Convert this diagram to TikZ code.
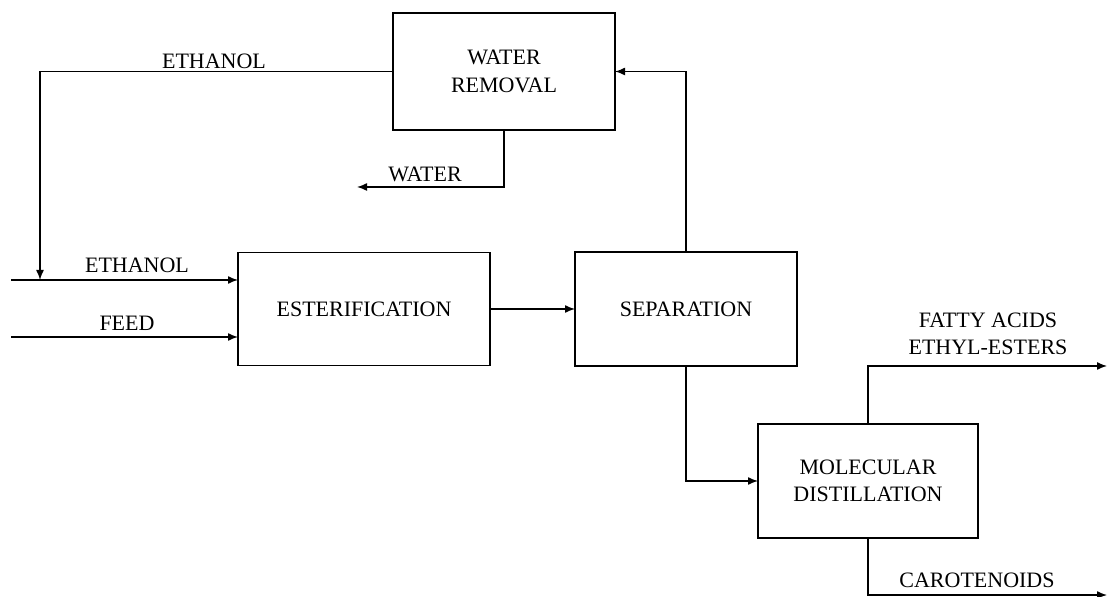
\documentclass[tikz,border=0pt]{standalone}
\usepackage{fontspec}
\setmainfont{Liberation Serif}
\usepackage{tikz}
\usetikzlibrary{arrows.meta,positioning}

\begin{document}
\begin{tikzpicture}[
  x=0.5pt,y=-0.5pt,
  unit/.style={draw,line width=0.7pt,outer sep=0pt,minimum width=111pt,minimum height=57pt,align=center,font=\fontsize{11}{13.8}\selectfont},
  lbl/.style={inner sep=0pt,align=center,font=\fontsize{11}{13.5}\selectfont},
  arrow/.style={-{Latex[length=5pt,width=4pt]},line width=0.7pt}
]
\useasboundingbox (0,0) rectangle (1112,597);
\node[unit,minimum height=58.5pt] (wr) at (504,71.5) {WATER\\REMOVAL};
\node[unit,minimum width=126pt,minimum height=56.5pt] (ester) at (364,309) {ESTERIFICATION};
\node[unit] (sep) at (686,309) {SEPARATION};
\node[unit,minimum width=110pt] (md) at (868,481) {MOLECULAR\\DISTILLATION};
\coordinate (mix) at (40,280);
\coordinate (ethin) at (11,280);
\coordinate (feedin) at (11,337);
\coordinate (waterout) at (357,187);
\coordinate (faeeout) at (1107,366);
\coordinate (carout) at (1107,595);
\node[lbl] (ethtop) at (214,61) {ETHANOL};
\node[lbl] (water) at (425,174) {WATER};
\node[lbl] (ethbot) at (137,265) {ETHANOL};
\node[lbl] (feed) at (127,323) {FEED};
\node[lbl] (faee) at (988,333.5) {FATTY ACIDS\\ETHYL-ESTERS};
\node[lbl] (carot) at (977,580.5) {CAROTENOIDS};
\draw[arrow] (sep.north) |- (wr.east);
\draw[arrow] (wr.west) -| (mix);
\draw[arrow] (wr.south) |- (waterout);
\draw[arrow] (ethin) -- (ester.west |- ethin);
\draw[arrow] (feedin) -- (ester.west |- feedin);
\draw[arrow] (ester.east) -- (sep.west);
\draw[arrow] (sep.south) |- (md.west);
\draw[arrow] (md.north) |- (faeeout);
\draw[arrow] (md.south) |- (carout);
\end{tikzpicture}
\end{document}
